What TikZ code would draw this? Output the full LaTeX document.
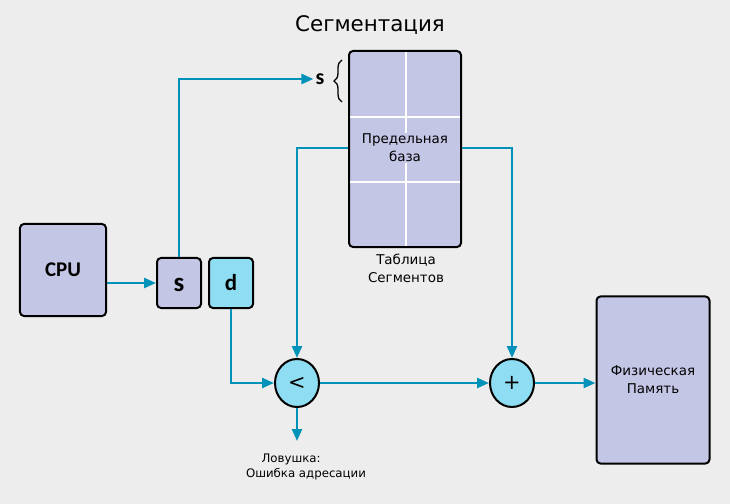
\documentclass[tikz,border=0pt]{standalone}
\usepackage{fontspec}
\setmainfont{DejaVu Sans}
\newfontfamily\boldfam{Carlito}
\usetikzlibrary{arrows.meta,decorations.pathreplacing,shapes.geometric}
\definecolor{bgc}{RGB}{237,237,237}
\definecolor{boxc}{RGB}{196,198,230}
\definecolor{cyanc}{RGB}{143,221,242}
\definecolor{linec}{RGB}{0,146,184}
\tikzset{
  blk/.style={draw=black,line width=2bp,rounded corners=4bp,fill=boxc,inner sep=0pt},
  conn/.style={draw=linec,line width=2.3bp,-{Triangle[length=12bp,width=10bp]}},
  op/.style={draw=black,line width=2bp,fill=cyanc,ellipse,minimum width=44bp,minimum height=48bp,inner sep=0pt,font=\fontsize{21}{21}\selectfont},
  lbl/.style={font=\fontsize{13.5}{18}\selectfont,align=center,inner sep=0pt},
  bl/.style={font=\boldfam\bfseries\fontsize{24}{24}\selectfont,inner sep=0pt}
}
\begin{document}
\begin{tikzpicture}[x=1bp,y=-1bp]
\useasboundingbox (0,0) rectangle (730,504);
\fill[bgc] (-5,-5) rectangle (735,509);
\node[font=\fontsize{21.5}{21.5}\selectfont] (title) at (370,25) {Сегментация};
% segment table
\node[blk,minimum width=112bp,minimum height=196bp] (tab) at (405,149) {};
\draw[white,line width=2bp] (406,52) -- (406,246);
\draw[white,line width=2bp] (350,117) -- (460,117);
\draw[white,line width=2bp] (350,182) -- (460,182);
\node[lbl,fill=boxc,inner sep=1pt] (lim) at (405,148) {Предельная\\база};
\node[lbl,anchor=north] (tablbl) at (406,254) {Таблица\\Сегментов};
% brace and s label
\draw[line width=1.3bp,decorate,decoration={brace,amplitude=8bp,mirror}] (342,60) -- (342,102);
\node[bl,font=\boldfam\bfseries\fontsize{22}{22}\selectfont] (slbl) at (320,79) {s};
% CPU
\node[blk,minimum width=86bp,minimum height=92bp] (cpu) at (63,270) {};
\node[bl,font=\boldfam\bfseries\fontsize{21}{21}\selectfont] at (cpu.center) {CPU};
\node[blk,minimum width=44bp,minimum height=50bp] (sbox) at (179,283) {};
\node[bl,font=\boldfam\bfseries\fontsize{27}{27}\selectfont] at (179,285) {s};
\node[blk,fill=cyanc,minimum width=44bp,minimum height=50bp] (dbox) at (231,283) {};
\node[bl,font=\boldfam\bfseries\fontsize{23}{23}\selectfont] at (dbox.center) {d};
% operators
\node[op] (lt) at (297,383) {<};
\node[op] (plus) at (512,383) {+};
% physical memory
\node[blk,minimum width=113bp,minimum height=167bp] (mem) at (653,380) {};
\node[lbl] at (mem.center) {Физическая\\Память};
% trap label
\node[lbl,font=\fontsize{11.8}{15}\selectfont] (trap) at (306,467) {\hspace*{-30pt}Ловушка:\\Ошибка адресации};
\coordinate (trapend) at (297,441);
% connectors
\draw[conn] (cpu.east |- 0,283) -- (sbox.west |- 0,283);
\draw[conn,shorten >=2bp] (sbox.north) |- (slbl.west);
\draw[conn] (dbox.south) |- (lt.west);
\draw[conn] (tab.west |- 0,148) -| (lt.north);
\draw[conn] (tab.east |- 0,148) -| (plus.north);
\draw[conn] (lt.east) -- (plus.west);
\draw[conn] (plus.east) -- (mem.west |- plus.east);
\draw[conn] (lt.south) -- (trapend);
\end{tikzpicture}
\end{document}
